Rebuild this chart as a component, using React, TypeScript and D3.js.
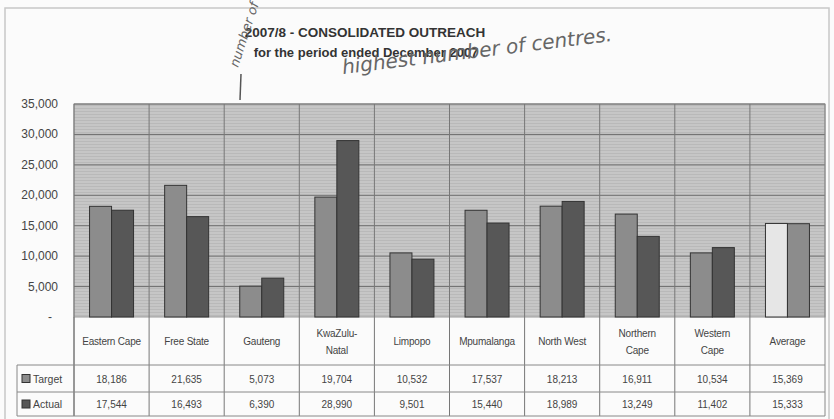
import React from "react";
import * as d3 from "d3";

const categories = ["Eastern Cape", "Free State", "Gauteng", "KwaZulu-Natal", "Limpopo", "Mpumalanga", "North West", "Northern Cape", "Western Cape", "Average"];
const categoryLines = [["Eastern Cape"], ["Free State"], ["Gauteng"], ["KwaZulu-", "Natal"], ["Limpopo"], ["Mpumalanga"], ["North West"], ["Northern", "Cape"], ["Western", "Cape"], ["Average"]];
const targetValues = [18186, 21635, 5073, 19704, 10532, 17537, 18213, 16911, 10534, 15369];
const actualValues = [17544, 16493, 6390, 28990, 9501, 15440, 18989, 13249, 11402, 15333];
const yTicks = [0, 5000, 10000, 15000, 20000, 25000, 30000, 35000];
const seriesNames = ["Target", "Actual"];

export default function App() {
  const W = 834, H = 419;
  const left = 74, right = 825, top = 104, bottom = 317;
  const x = d3.scaleBand<string>().domain(categories).range([left, right]);
  const y = d3.scaleLinear().domain([0, 35000]).range([bottom, top]);
  const fmt = d3.format(",");
  const barW = 22;
  const rowLabelBottom = 365, row1Bottom = 392, row2Bottom = 416;
  const tickFmt = (v: number) => (v === 0 ? "-" : fmt(v));
  const font = "'Liberation Sans', Arial, sans-serif";
  const targetColor = (i: number) => (categories[i] === "Average" ? "#e6e6e6" : "#8c8c8c");
  const actualColor = (i: number) => (categories[i] === "Average" ? "#8c8c8c" : "#575757");

  return (
    <svg width={W} height={H} style={{ position: "absolute", left: 0, top: 0, background: "#fbfbfb" }}>
      <defs>
        <pattern id="tex" width="6" height="3" patternUnits="userSpaceOnUse">
          <rect width="6" height="3" fill="#c6c6c6" />
          <line x1="0" y1="0.5" x2="6" y2="0.5" stroke="#b9b9b9" strokeWidth="1" />
        </pattern>
      </defs>
      {/* outer frame */}
      <path d={`M5,${H} L5,8 L829,8 L829,${H}`} fill="none" stroke="#c8c8c8" strokeWidth={1.5} />

      {/* title */}
      <text x={365} y={37} textAnchor="middle" fontFamily={font} fontWeight="bold" fontSize={13.5} fill="#333">2007/8 - CONSOLIDATED OUTREACH</text>
      <text x={366} y={57} textAnchor="middle" fontFamily={font} fontWeight="bold" fontSize={13} fill="#333">for the period ended December 2007</text>

      {/* handwriting */}
      <text x={343} y={74} transform="rotate(-7 343 74)" fontFamily="'DejaVu Sans', sans-serif" fontWeight={200} fontSize={20} fill="#666" fontStyle="italic">highest number of centres.</text>
      <text x={238} y={68} transform="rotate(-72 238 68)" fontFamily="'DejaVu Sans', sans-serif" fontSize={13} fill="#666" fontStyle="italic">number of</text>
      <line x1={241} y1={74} x2={240} y2={100} stroke="#555" strokeWidth={1.5} />

      {/* plot area */}
      <rect x={left} y={top} width={right - left} height={bottom - top} fill="url(#tex)" stroke="#9a9a9a" />
      {yTicks.filter((t) => t > 0).map((t) => (
        <line key={t} x1={left} x2={right} y1={y(t)} y2={y(t)} stroke="#6e6e6e" strokeWidth={1} />
      ))}
      {categories.map((c) => (
        <line key={"v" + c} x1={x(c)!} x2={x(c)!} y1={top} y2={row2Bottom} stroke="#777" strokeWidth={1} />
      ))}
      <line x1={right} x2={right} y1={top} y2={row2Bottom} stroke="#888" />

      {/* y labels */}
      {yTicks.map((t) => (
        <text key={"yl" + t} x={t === 0 ? 52 : 58} y={y(t) + 4} textAnchor="end" fontFamily={font} fontSize={12} fill="#444">{tickFmt(t)}</text>
      ))}

      {/* bars */}
      {categories.map((c, i) => {
        const cx = x(c)! + x.bandwidth() / 2;
        return (
          <g key={"b" + c}>
            <rect x={cx - barW} y={y(targetValues[i])} width={barW} height={y(0) - y(targetValues[i])} fill={targetColor(i)} stroke="#333" strokeWidth={1} />
            <rect x={cx} y={y(actualValues[i])} width={barW} height={y(0) - y(actualValues[i])} fill={actualColor(i)} stroke="#333" strokeWidth={1} />
          </g>
        );
      })}

      {/* table */}
      <line x1={left} x2={left} y1={bottom} y2={row2Bottom} stroke="#777" />
      <line x1={17} x2={right} y1={rowLabelBottom} y2={rowLabelBottom} stroke="#888" />
      <line x1={17} x2={right} y1={row1Bottom} y2={row1Bottom} stroke="#888" />
      <line x1={17} x2={right} y1={row2Bottom} y2={row2Bottom} stroke="#888" />
      <line x1={17} x2={17} y1={rowLabelBottom} y2={row2Bottom} stroke="#888" />

      {categoryLines.map((lines, i) => {
        const cx = x(categories[i])! + x.bandwidth() / 2;
        const mid = (bottom + rowLabelBottom) / 2;
        return (
          <text key={"cl" + i} textAnchor="middle" fontFamily={font} fontSize={10} fill="#444" letterSpacing={-0.2}>
            {lines.map((ln, j) => (
              <tspan key={j} x={cx} y={mid + 4 + (j - (lines.length - 1) / 2) * 17}>{ln}</tspan>
            ))}
          </text>
        );
      })}

      {seriesNames.map((s, r) => {
        const yc = r === 0 ? (rowLabelBottom + row1Bottom) / 2 : (row1Bottom + row2Bottom) / 2;
        const vals = r === 0 ? targetValues : actualValues;
        return (
          <g key={s}>
            <rect x={22} y={yc - 4} width={8} height={8} fill={r === 0 ? "#8c8c8c" : "#575757"} stroke="#333" />
            <text x={33} y={yc + 4} fontFamily={font} fontSize={10.5} fill="#444">{s}</text>
            {categories.map((c, i) => (
              <text key={c} x={x(c)! + x.bandwidth() / 2} y={yc + 4} textAnchor="middle" fontFamily={font} fontSize={10} fill="#444">{fmt(vals[i])}</text>
            ))}
          </g>
        );
      })}
    </svg>
  );
}
